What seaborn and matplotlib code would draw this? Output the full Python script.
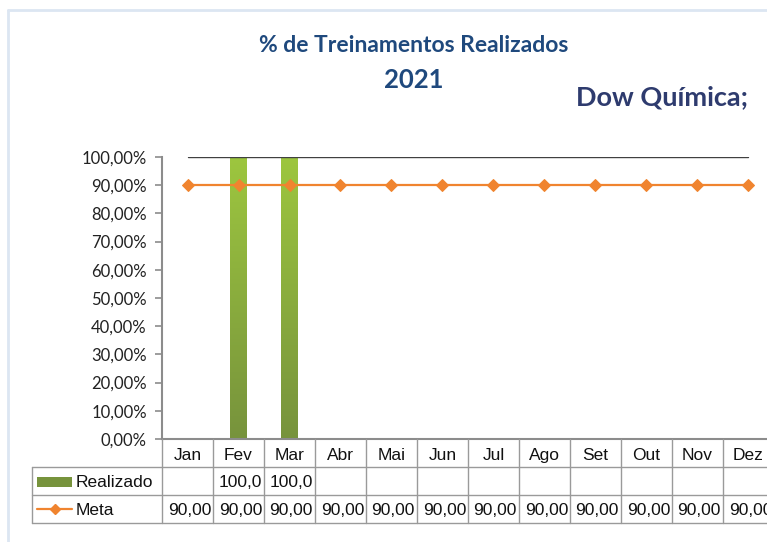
import numpy as np
import pandas as pd
import matplotlib
matplotlib.use("Agg")
import matplotlib.pyplot as plt
import seaborn as sns
from matplotlib.colors import LinearSegmentedColormap
from matplotlib.patches import Rectangle
from matplotlib.lines import Line2D

# ==========================================
# 1. DATA
# ==========================================
meses = ['Jan', 'Fev', 'Mar', 'Abr', 'Mai', 'Jun', 'Jul', 'Ago', 'Set', 'Out', 'Nov', 'Dez']
realizado = [np.nan, 100.0, 100.0, np.nan, np.nan, np.nan, np.nan, np.nan, np.nan, np.nan, np.nan, np.nan]
meta = [90.0, 90.0, 90.0, 90.0, 90.0, 90.0, 90.0, 90.0, 90.0, 90.0, 90.0, 90.0]
teto = [100.0, 100.0, 100.0, 100.0, 100.0, 100.0, 100.0, 100.0, 100.0, 100.0, 100.0, 100.0]
realizado_txt = ['', '100,0', '100,0', '', '', '', '', '', '', '', '', '']
meta_txt = ['90,00'] * 12
y_ticks = [0, 10, 20, 30, 40, 50, 60, 70, 80, 90, 100]

df = pd.DataFrame({'Mes': meses, 'Realizado': realizado, 'Meta': meta})
df['pos'] = np.arange(len(meses))

# ==========================================
# 2. FIGURE
# ==========================================
sns.set_style("white")
plt.rcParams['font.family'] = ['Lato', 'DejaVu Sans']

W, H = 767, 542
fig = plt.figure(figsize=(W / 100, H / 100), dpi=100)
fig.patch.set_facecolor('white')

# borda leve do gráfico (azul claro)
fig.add_artist(Line2D([8 / W, 8 / W], [0, 1 - 10 / H], transform=fig.transFigure, color='#DCE6F2', lw=2))
fig.add_artist(Line2D([8 / W, 1], [1 - 10 / H, 1 - 10 / H], transform=fig.transFigure, color='#DCE6F2', lw=2))

x0, x1, ytop, ybot = 162, 774, 157, 439
ax = fig.add_axes([x0 / W, 1 - ybot / H, (x1 - x0) / W, (ybot - ytop) / H])

# barras
verde = '#8DB340'
sns.barplot(data=df, x='pos', y='Realizado', ax=ax, color=verde, width=0.32,
            order=list(range(12)), native_scale=True, saturation=1)

cmap_verde = LinearSegmentedColormap.from_list('verde', ['#77933C', '#9DC63F'])
grad = np.linspace(0, 1, 256).reshape(-1, 1)
for p in list(ax.patches):
    if np.isnan(p.get_height()) or p.get_height() == 0:
        continue
    bx, by = p.get_x(), p.get_y()
    bw, bh = p.get_width(), p.get_height()
    im = ax.imshow(grad, cmap=cmap_verde, origin='lower', aspect='auto',
                   extent=[bx, bx + bw, by, by + bh], zorder=2)
    im.set_clip_path(p)
    p.set_edgecolor('none')

# linha de 100%
sns.lineplot(x=df['pos'], y=teto, ax=ax, color='#404040', lw=1, zorder=3)
# meta
laranja = '#F0842F'
sns.lineplot(data=df, x='pos', y='Meta', ax=ax, color=laranja, lw=1.6, marker='D',
             markersize=6, markeredgecolor=laranja, zorder=4)

ax.set_xlim(-0.5, 11.5)
ax.set_ylim(0, 100)
ax.set_xlabel('')
ax.set_ylabel('')
ax.set_yticks(y_ticks)
ax.set_yticklabels([f'{v:.2f}%'.replace('.', ',') for v in y_ticks], fontsize=12, color='#222222')
ax.set_xticks([])
ax.tick_params(axis='y', left=True, length=5, width=1.2, color='#8C8C8C', pad=6)
for s in ['top', 'right']:
    ax.spines[s].set_visible(False)
ax.spines['left'].set_color('#8C8C8C')
ax.spines['left'].set_linewidth(1.5)
ax.spines['bottom'].set_color('#8C8C8C')
ax.spines['bottom'].set_linewidth(1.5)

# ==========================================
# 3. TABELA DE DADOS
# ==========================================
grid = '#9A9A9A'
px_x = lambda v: v / W
px_y = lambda v: 1 - v / H
row_y = [439, 467, 495, 523]
tf = fig.transFigure

def hline(xa, xb, yy):
    fig.add_artist(Line2D([px_x(xa), px_x(xb)], [px_y(yy), px_y(yy)], transform=tf, color=grid, lw=1))

def vline(xx, ya, yb):
    fig.add_artist(Line2D([px_x(xx), px_x(xx)], [px_y(ya), px_y(yb)], transform=tf, color=grid, lw=1))

cell = (x1 - x0) / 12
for r in row_y[1:]:
    hline(32, W, r)
vline(32, 467, 523)
for i in range(13):
    vline(x0 + i * cell, 439, 523)

fs_tab = 12.5
tab_font = ['Liberation Sans', 'DejaVu Sans']
for i, m in enumerate(meses):
    cx = x0 + (i + 0.5) * cell
    fig.text(px_x(cx), px_y(454), m, ha='center', va='center_baseline', fontsize=fs_tab,
             family=tab_font, color='#111111')
    if realizado_txt[i]:
        fig.text(px_x(x0 + (i + 1) * cell - 2), px_y(481), realizado_txt[i], ha='right',
                 va='center_baseline', fontsize=fs_tab, family=tab_font, color='#111111')
    fig.text(px_x(x0 + (i + 1) * cell - 2), px_y(509), meta_txt[i], ha='right',
             va='center_baseline', fontsize=fs_tab, family=tab_font, color='#111111')

# legendas da tabela
fig.add_artist(Rectangle((px_x(37), px_y(487)), 35 / W, 10 / H, transform=tf,
                         facecolor='#77933C', edgecolor='none'))
fig.text(px_x(76), px_y(481), 'Realizado', ha='left', va='center_baseline', fontsize=fs_tab,
         family=tab_font, color='#111111')
fig.add_artist(Line2D([px_x(37), px_x(72)], [px_y(509), px_y(509)], transform=tf,
                      color=laranja, lw=1.6))
fig.add_artist(Line2D([px_x(54.5)], [px_y(509)], transform=tf, color=laranja, marker='D',
                      markersize=5, lw=0))
fig.text(px_x(76), px_y(509), 'Meta', ha='left', va='center_baseline', fontsize=fs_tab,
         family=tab_font, color='#111111')

# ==========================================
# 4. TITULOS
# ==========================================
fig.text(px_x(414), px_y(45), '% de Treinamentos Realizados', ha='center', va='center',
         fontsize=16.5, fontweight='bold', color='#1F497D')
fig.text(px_x(414), px_y(80), '2021', ha='center', va='center',
         fontsize=18.5, fontweight='bold', color='#1F497D')
fig.text(px_x(662), px_y(97), 'Dow Química;', ha='center', va='center',
         fontsize=19.5, fontweight='bold', color='#2E3B6E')

fig.savefig('out.png', dpi=100)
